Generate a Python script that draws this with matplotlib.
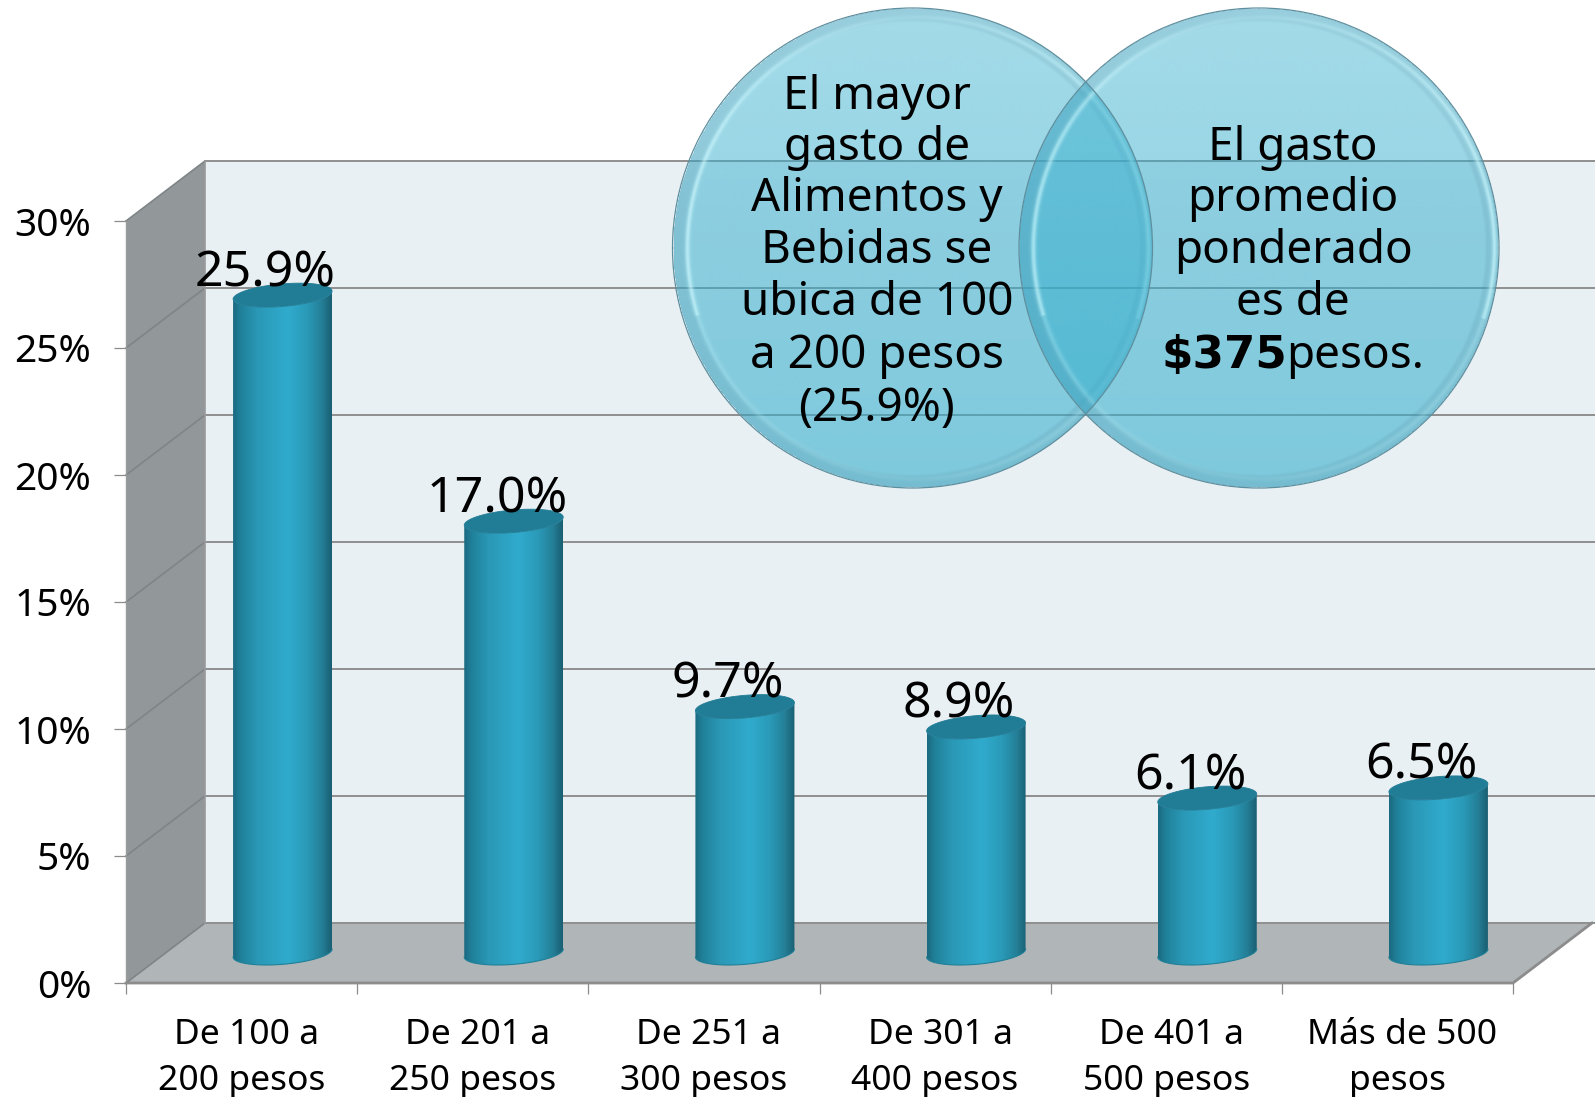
import numpy as np
import matplotlib
matplotlib.use("Agg")
import matplotlib.pyplot as plt
from matplotlib.patches import Polygon, Circle
from matplotlib.colors import LinearSegmentedColormap

# data
categories = ["De 100 a\n200 pesos", "De 201 a\n250 pesos", "De 251 a\n300 pesos",
              "De 301 a\n400 pesos", "De 401 a\n500 pesos", "Más de 500\npesos"]
values = [25.9, 17.0, 9.7, 8.9, 6.1, 6.5]
value_labels = ["25.9%", "17.0%", "9.7%", "8.9%", "6.1%", "6.5%"]
y_ticks = [0, 5, 10, 15, 20, 25, 30]
y_tick_labels = ["0%", "5%", "10%", "15%", "20%", "25%", "30%"]
left_note = ["El mayor", "gasto de", "Alimentos y", "Bebidas se", "ubica de 100", "a 200 pesos", "(25.9%)"]
right_note = ["El gasto", "promedio", "ponderado", "es de"]

W, H = 1595, 1097
FONT = "Noto Sans"
plt.rcParams["font.family"] = [FONT, "DejaVu Sans"]

fig = plt.figure(figsize=(W / 100, H / 100), dpi=100, facecolor="white")

# front plane of the 3D box, in pixels
x0, x1, y0, y1 = 126, 1513, 983, 221
ax = fig.add_axes([x0 / W, (H - y0) / H, (x1 - x0) / W, (y0 - y1) / H])
ax.set_xlim(0, 6)
ax.set_ylim(0, 30)
ax.patch.set_visible(False)
for s in ax.spines.values():
    s.set_visible(False)

px_x = 6 / (x1 - x0)
px_y = 30 / (y0 - y1)
dx = 79 * px_x   # depth of the box
dy = 60 * px_y
x_end = (W - x0) * px_x

# walls and floor
ax.add_patch(Polygon([(dx, dy), (x_end, dy), (x_end, 30 + dy), (dx, 30 + dy)],
                     fc="#e8f0f4", ec="none", clip_on=False, zorder=1))
ax.add_patch(Polygon([(0, 0), (6, 0), (6 + dx, dy), (dx, dy)],
                     fc="#b0b5b8", ec="none", clip_on=False, zorder=1))
ax.add_patch(Polygon([(0, 0), (dx, dy), (dx, 30 + dy), (0, 30)],
                     fc="#92989a", ec="none", clip_on=False, zorder=1))
grid_color = "#8f8f8f"
for t in y_ticks:
    ax.plot([0, dx], [t, t + dy], color="#7f8486", lw=1.2, clip_on=False, zorder=2)
    ax.plot([dx, x_end], [t + dy, t + dy], color=grid_color, lw=1.4, clip_on=False, zorder=2)
ax.plot([dx, dx], [0 + dy, 30 + dy], color="#9a9a9a", lw=1.2, clip_on=False, zorder=2)
ax.plot([0, 0], [0, 30], color="#9a9a9a", lw=1.0, clip_on=False, zorder=2)
ax.plot([0, 6, 6 + dx], [0, 0, dy], color="#8c8c8c", lw=2.0, clip_on=False, zorder=2,
        solid_joinstyle="miter")

ax.set_yticks(y_ticks)
ax.set_yticklabels(y_tick_labels, fontsize=28)
ax.tick_params(axis="y", length=8.6, width=0.9, color="#8c8c8c", pad=16.5, labelcolor="black")
ax.set_xticks(range(7))
ax.set_xticklabels([])
ax.tick_params(axis="x", length=8, width=0.9, color="#8c8c8c")

# cylinders
bar_cmap = LinearSegmentedColormap.from_list("cyl", [
    (0.0, "#1a6a80"), (0.08, "#20819a"), (0.25, "#2a98b6"), (0.55, "#30abcd"),
    (0.75, "#2a9ab8"), (0.9, "#247f97"), (1.0, "#195f72")])
grad = np.linspace(0, 1, 256).reshape(1, -1)
half_w = 49.5 * px_x
half_h = 11.3 * px_y
shear = 4 * px_y
t = np.linspace(0, 2 * np.pi, 121)


def ellipse_xy(cx, cy, tt):
    return cx + half_w * np.cos(tt), cy + half_h * np.sin(tt) + shear * np.cos(tt)


for i, v in enumerate(values):
    cx = i + 0.5 + dx / 2 + 1.5 * px_x
    cy = dy / 2
    # body = lower arc at the base, then lower arc of the top going back
    tb = np.linspace(np.pi, 2 * np.pi, 61)
    bx, by = ellipse_xy(cx, cy, tb)
    tx, ty = ellipse_xy(cx, cy + v, tb[::-1])
    verts = np.column_stack([np.r_[bx, tx], np.r_[by, ty]])
    body = Polygon(verts, closed=True, fc="none", ec="none", transform=ax.transData)
    ax.add_patch(body)
    im = ax.imshow(grad, cmap=bar_cmap, aspect="auto", zorder=3, interpolation="bilinear",
                   extent=(cx - half_w, cx + half_w, cy - half_h - shear, cy + v + half_h + shear))
    im.set_clip_path(body)
    ex, ey = ellipse_xy(cx, cy + v, t)
    ax.fill(ex, ey, color="#217c95", lw=0.6, zorder=4, clip_on=False)
    ax.plot(bx, by, color="#1f8098", lw=0.8, zorder=4)
    ax.annotate(value_labels[i], xy=(i + 0.5, v), xytext=(24, 39), textcoords="offset pixels",
                ha="center", va="baseline", fontsize=36, color="black", zorder=5,
                annotation_clip=False)

# category labels, first line sits a bit to the right of the second
for i, label in enumerate(categories):
    line1, line2 = label.split("\n")
    ax.annotate(line1, xy=(i + 0.5, 0), xytext=(5, -61), textcoords="offset pixels",
                ha="center", va="baseline", fontsize=25.5, annotation_clip=False)
    ax.annotate(line2, xy=(i + 0.5, 0), xytext=(0, -107), textcoords="offset pixels",
                ha="center", va="baseline", fontsize=25.5, annotation_clip=False)

ax.set_xlim(0, 6)
ax.set_ylim(0, 30)

# overlay in pixel coordinates for the two translucent circles and their text
ov = fig.add_axes([0, 0, 1, 1], zorder=10)
ov.set_xlim(0, W)
ov.set_ylim(H, 0)
ov.axis("off")

R = 240
n = 2 * R + 1
yy, xx = np.mgrid[-R:R + 1, -R:R + 1].astype(float)
rr = np.hypot(xx, yy)
th = np.arctan2(-yy, xx)
base = np.array([55, 175, 205]) / 255.0
light = np.array([190, 242, 250]) / 255.0
dark = np.array([70, 140, 165]) / 255.0

frac = (yy + R) / (2 * R)
alpha = 0.46 + 0.14 * frac
rgba = np.zeros((n, n, 4))
rgba[..., :3] = base
rgba[..., 3] = alpha

# darker band in the rim
band = np.clip((rr - 226) / 3, 0, 1)
for c in range(3):
    rgba[..., c] = rgba[..., c] * (1 - 0.35 * band) + dark[c] * 0.35 * band
rgba[..., 3] = rgba[..., 3] + 0.07 * band

# bright line round the rim, nearer the edge on the right than on the left
peak = 231 + 5 * np.cos(th)
w = 0.35 + 0.5 * np.abs(np.cos(th))
w = np.where(np.sin(th) < -0.3, w * 0.5, w)
glow = np.exp(-((rr - peak) / 3.0) ** 2) * w
for c in range(3):
    rgba[..., c] = rgba[..., c] * (1 - glow) + light[c] * glow
rgba[..., 3] = np.clip(rgba[..., 3] + 0.3 * glow, 0, 1)
rgba[rr > R, 3] = 0

for cx, cy in [(912.5, 248), (1259, 248)]:
    ov.imshow(rgba, extent=(cx - R, cx + R, cy + R, cy - R), origin="upper",
              aspect="auto", interpolation="bilinear", zorder=1)
    ov.add_patch(Circle((cx, cy), R, fc="none", ec="#5f8f9e", lw=0.9, zorder=2))
ov.set_xlim(0, W)
ov.set_ylim(H, 0)

line_y = [91, 142.5, 193.5, 245.5, 297.5, 350.5, 403.5]
for s, y in zip(left_note, line_y):
    ov.text(877, y, s, ha="center", va="center_baseline", fontsize=33, zorder=3)
for s, y in zip(right_note, line_y[1:]):
    ov.text(1293, y, s, ha="center", va="center_baseline", fontsize=33, zorder=3)
ov.text(1287, 350.5, "$375", ha="right", va="center_baseline", fontsize=32.5, fontweight="bold",
        family="DejaVu Sans", parse_math=False, zorder=3)
ov.text(1286, 350.5, "pesos.", ha="left", va="center_baseline", fontsize=33, zorder=3)

fig.savefig("out.png", dpi=100)
